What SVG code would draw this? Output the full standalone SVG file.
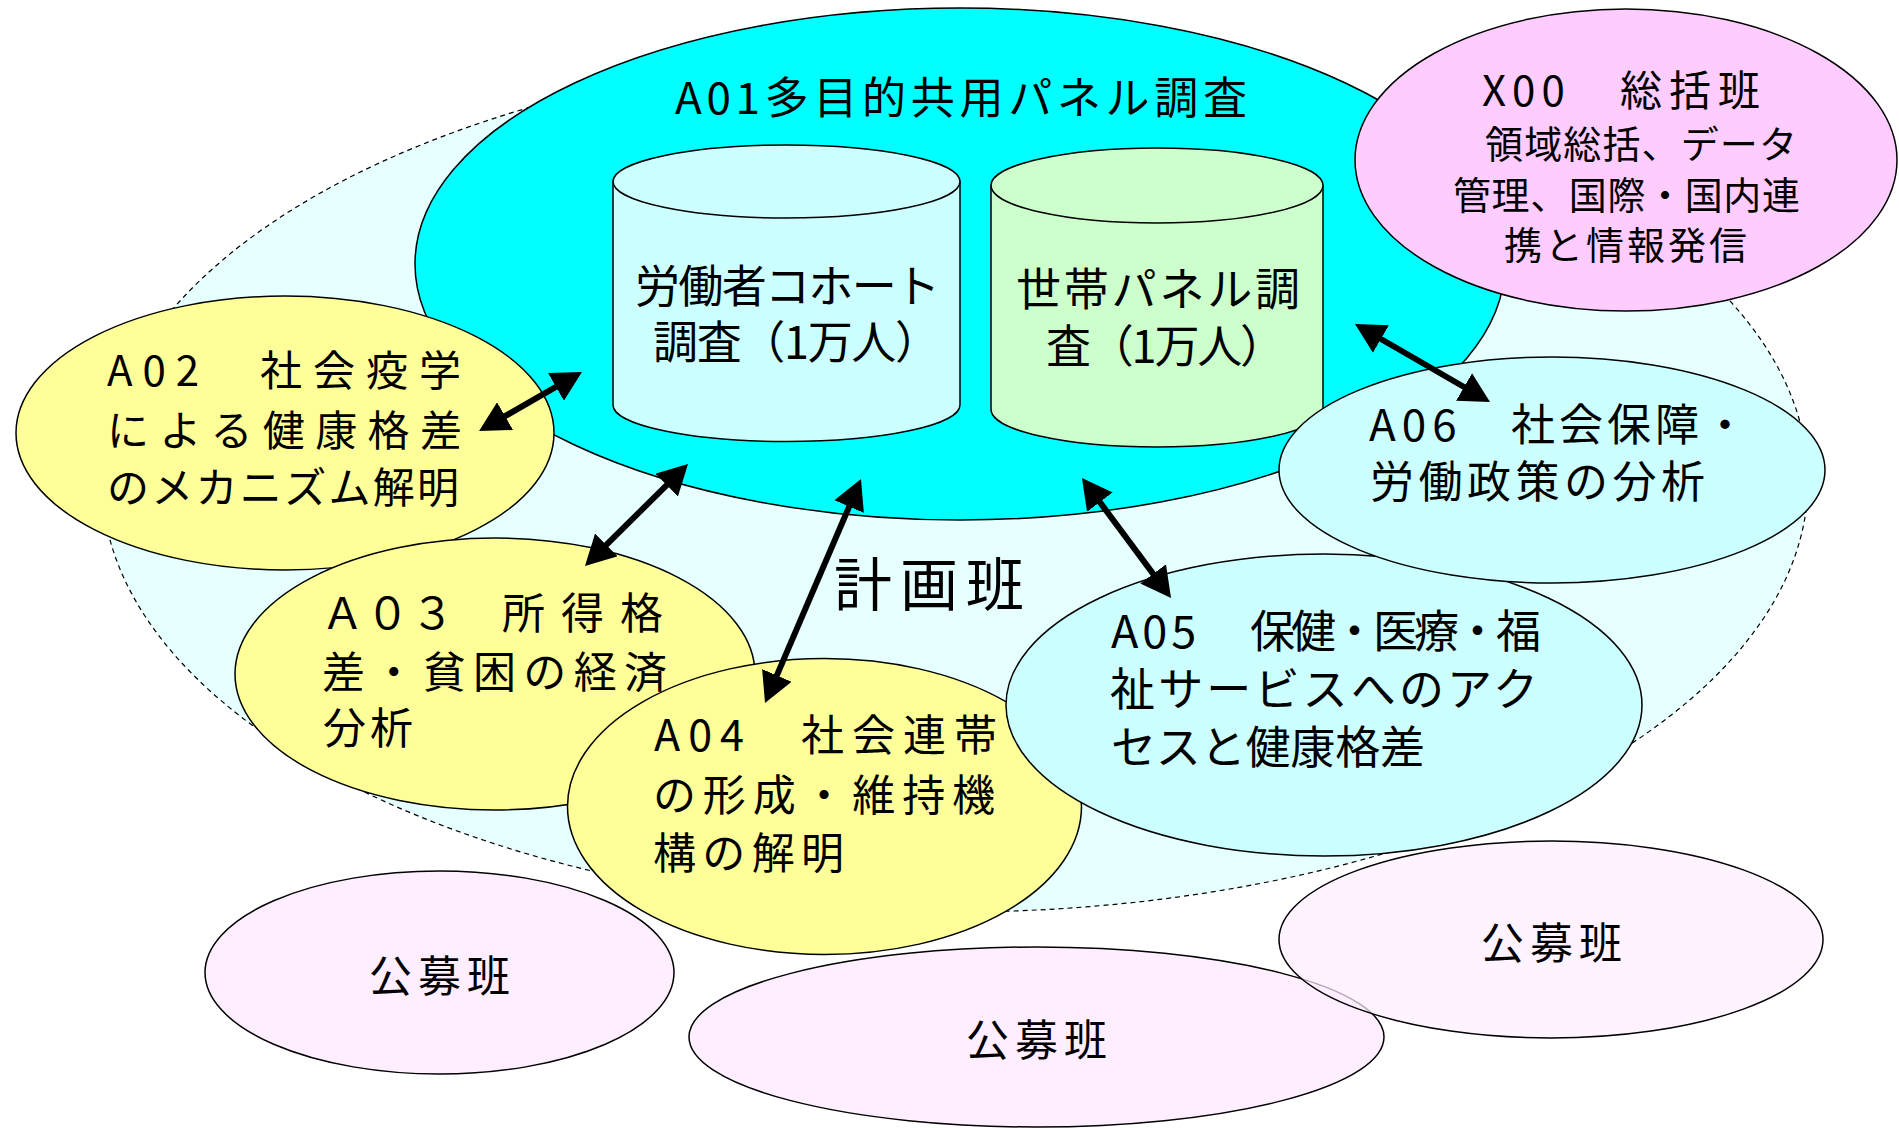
<svg xmlns="http://www.w3.org/2000/svg" width="1899" height="1128" viewBox="0 0 1899 1128">
<style>
.t{font-family:"Noto Sans CJK JP","Noto Sans",sans-serif;fill:#000;}
.s{stroke:#000;stroke-width:1.5;}
.cyan{fill:#00FFFF;}
.lc{fill:#CCFFFF;}
.lg{fill:#CCFFCC;}
.pk{fill:#FFCCFF;}
.yl{fill:#FFFF99;}
.kb{fill:#FFEEFF;}
.conn{stroke:#000;stroke-width:6;fill:none;marker-start:url(#ah);marker-end:url(#ah);}
</style>
<defs>
<marker id="ah" markerUnits="userSpaceOnUse" markerWidth="30" markerHeight="32" refX="10" refY="16" orient="auto-start-reverse" viewBox="0 0 30 32">
<path d="M0,0 L30,16 L0,32 Z" fill="#000"/>
</marker>
</defs>
<rect width="1899" height="1128" fill="#fff"/>

<g id="keikaku-area">
<ellipse cx="955" cy="481" rx="853" ry="431" fill="#E6FFFF" stroke="#000" stroke-width="1.2" stroke-dasharray="5 4"/>
</g>

<g id="A01">
<ellipse class="s cyan" cx="960" cy="264" rx="545" ry="256"/>
<text class="t" x="675" y="114" font-size="44" textLength="572" lengthAdjust="spacing">A01多目的共用パネル調査</text>
</g>

<g id="cohort">
<path class="s lc" d="M613,181.5 L613,405 A173.5,36.5 0 0 0 960,405 L960,181.5 Z"/>
<ellipse class="s lc" cx="786.5" cy="181.5" rx="173.5" ry="36.5"/>
<text class="t" x="635" y="303" font-size="45" textLength="305" lengthAdjust="spacing">労働者コホート</text>
<text class="t" x="653" y="359" font-size="45" textLength="287" lengthAdjust="spacing">調査（1万人）</text>
</g>

<g id="household">
<path class="s lg" d="M991,185.5 L991,409.5 A166,37.5 0 0 0 1323,409.5 L1323,185.5 Z"/>
<ellipse class="s lg" cx="1157" cy="185.5" rx="166" ry="37.5"/>
<text class="t" x="1016" y="306" font-size="45" textLength="284" lengthAdjust="spacing">世帯パネル調</text>
<text class="t" x="1046" y="363" font-size="45" textLength="239" lengthAdjust="spacing">査（1万人）</text>
</g>

<g id="X00">
<ellipse class="s pk" cx="1626" cy="160" rx="271" ry="151"/>
<text class="t" y="106" font-size="42"><tspan x="1482" letter-spacing="6">X00　</tspan><tspan x="1620" letter-spacing="7">総括班</tspan></text>
<text class="t" x="1485" y="158" font-size="38" textLength="312" lengthAdjust="spacing">領域総括、データ</text>
<text class="t" x="1453" y="209" font-size="38" textLength="347" lengthAdjust="spacing">管理、国際・国内連</text>
<text class="t" x="1504" y="259" font-size="38" textLength="243" lengthAdjust="spacing">携と情報発信</text>
</g>

<g id="A02">
<ellipse class="s yl" cx="285" cy="433" rx="269" ry="137"/>
<text class="t" y="386" font-size="42"><tspan x="107" letter-spacing="10">A02　</tspan><tspan x="260" letter-spacing="11">社会疫学</tspan></text>
<text class="t" x="107" y="446" font-size="42" textLength="355" lengthAdjust="spacing">による健康格差</text>
<text class="t" x="107" y="503" font-size="42" textLength="352" lengthAdjust="spacing">のメカニズム解明</text>
</g>

<g id="A03">
<ellipse class="s yl" cx="495" cy="674" rx="260" ry="136"/>
<text class="t" y="629" font-size="43"><tspan x="321" letter-spacing="2">Ａ０３　</tspan><tspan x="502" letter-spacing="16">所得格</tspan></text>
<text class="t" x="322" y="688" font-size="43" textLength="345" lengthAdjust="spacing">差・貧困の経済</text>
<text class="t" x="323" y="744" font-size="43" letter-spacing="4">分析</text>
</g>

<g id="A04">
<ellipse class="s yl" cx="824.5" cy="806.5" rx="257" ry="148"/>
<text class="t" y="751" font-size="43"><tspan x="654" letter-spacing="8">A04　</tspan><tspan x="801" letter-spacing="8">社会連帯</tspan></text>
<text class="t" x="653" y="811" font-size="43" textLength="342" lengthAdjust="spacing">の形成・維持機</text>
<text class="t" x="653" y="869" font-size="43" textLength="191" lengthAdjust="spacing">構の解明</text>
</g>

<g id="A05">
<ellipse class="s lc" cx="1324" cy="705" rx="318" ry="151"/>
<text class="t" y="648" font-size="45"><tspan x="1111" letter-spacing="4">A05　</tspan><tspan x="1250" letter-spacing="-4">保健・医療・福</tspan></text>
<text class="t" x="1110" y="706" font-size="45" textLength="428" lengthAdjust="spacing">祉サービスへのアク</text>
<text class="t" x="1111" y="764" font-size="45" textLength="314" lengthAdjust="spacing">セスと健康格差</text>
</g>

<g id="A06">
<ellipse class="s lc" cx="1552" cy="470" rx="273" ry="113"/>
<text class="t" y="441" font-size="44"><tspan x="1369" letter-spacing="6">A06　</tspan><tspan x="1511" letter-spacing="4">社会保障・</tspan></text>
<text class="t" x="1370" y="498" font-size="44" textLength="335" lengthAdjust="spacing">労働政策の分析</text>
</g>

<g id="keikaku-label">
<text class="t" x="834" y="606" font-size="58" textLength="190" lengthAdjust="spacing">計画班</text>
</g>

<g id="koubo1">
<ellipse class="s kb" cx="439.5" cy="972.5" rx="234.5" ry="101.5"/>
<text class="t" x="369" y="992" font-size="43" textLength="141" lengthAdjust="spacing">公募班</text>
</g>

<g id="koubo2">
<ellipse class="s kb" cx="1036.5" cy="1037" rx="347.5" ry="90"/>
<text class="t" x="966" y="1056" font-size="43" textLength="141" lengthAdjust="spacing">公募班</text>
</g>

<g id="koubo3">
<ellipse class="s kb" cx="1551" cy="939.5" rx="272" ry="98.5" fill-opacity="0.7"/>
<text class="t" x="1481" y="959" font-size="43" textLength="141" lengthAdjust="spacing">公募班</text>
</g>

<g id="connectors">
<line class="conn" x1="496.4" y1="421.1" x2="564.6" y2="381.9"/>
<line class="conn" x1="599.2" y1="551.9" x2="673.8" y2="478.1"/>
<line class="conn" x1="772.9" y1="684.6" x2="853.1" y2="497.4"/>
<line class="conn" x1="1159.1" y1="581.9" x2="1093.9" y2="494.1"/>
<line class="conn" x1="1472.7" y1="392" x2="1372.3" y2="334"/>
</g>
</svg>
